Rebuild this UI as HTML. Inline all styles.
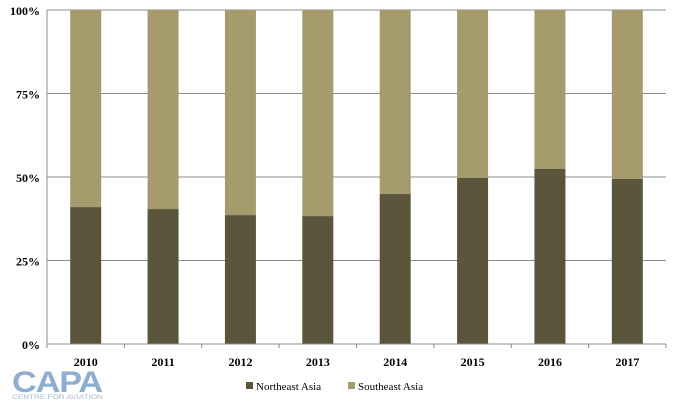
<!DOCTYPE html>
<html><head><meta charset="utf-8"><style>
body{margin:0;background:#fff;width:676px;height:403px;overflow:hidden}
svg{display:block;font-family:"Liberation Serif",serif}
</style></head><body>
<svg id="chart" width="676" height="403">
<g id="grid"></g>
<g id="bars"></g>
<g id="axes"></g>
<g>
<rect x="246" y="382" width="7" height="7" fill="#5a553b"/>
<text x="256" y="390" font-size="11" fill="#000">Northeast Asia</text>
<rect x="348" y="382" width="7" height="7" fill="#a59b6d"/>
<text x="358" y="390" font-size="11" fill="#000">Southeast Asia</text>
</g>
<g>
<text x="12" y="392" font-family="Liberation Sans,sans-serif" font-weight="bold" font-size="30" fill="#8eaed0" letter-spacing="-1" textLength="90" lengthAdjust="spacingAndGlyphs">CAPA</text>
<text x="12" y="399" font-family="Liberation Sans,sans-serif" font-size="6.5" fill="#a9b8c8" textLength="91" lengthAdjust="spacingAndGlyphs">CENTRE FOR AVIATION</text>
</g>
</svg>
<script>
const categories=["2010","2011","2012","2013","2014","2015","2016","2017"];
const northeast=[41.0,40.4,38.6,38.3,44.9,49.7,52.4,49.4];
const southeast=[59.0,59.6,61.4,61.7,55.1,50.3,47.6,50.6];
const yTicks=[0,25,50,75,100];
const yTickLabels=["0%","25%","50%","75%","100%"];
const NS="http://www.w3.org/2000/svg";
const X0=47,X1=666,Y0=344,Y1=10;
const band=(X1-X0)/categories.length;
function x(i){return X0+band*(i+0.5);}
function y(v){return Y0-(Y1-Y0)*-v/100;}
function mk(tag,attrs,parent){const e=document.createElementNS(NS,tag);for(const k in attrs)e.setAttribute(k,attrs[k]);parent.appendChild(e);return e;}
const grid=document.getElementById('grid'),bars=document.getElementById('bars'),axes=document.getElementById('axes');
yTicks.forEach((t,i)=>{
  if(t>0){const l=mk('line',{x1:X0,x2:X1,y1:y(t),y2:y(t),stroke:'#8c8c8c','stroke-width':1},grid);
  
  }
  const tx=mk('text',{x:X0-7,y:y(t)+5,'text-anchor':'end','font-size':12,'font-weight':'bold',fill:'#000'},axes);
  tx.textContent=yTickLabels[i];
  
  
});
const bw=31;
categories.forEach((c,i)=>{
  let total=northeast[i]+southeast[i];
  const n=northeast[i]/total*100;
  const r1=mk('rect',{x:x(i)-bw/2,y:y(n),width:bw,height:y(0)-y(n),fill:'#5a553b'},bars);
  
  
  const r2=mk('rect',{x:x(i)-bw/2,y:y(100),width:bw,height:y(n)-y(100),fill:'#a59b6d'},bars);
  
  
  const t=mk('text',{x:x(i),y:366,'text-anchor':'middle','font-size':12,'font-weight':'bold',fill:'#000'},axes);
  t.textContent=c;
  
  
});
for(let i=0;i<=categories.length;i++){
  const tk=mk('line',{x1:X0+band*i,x2:X0+band*i,y1:Y0,y2:Y0+4,stroke:'#8c8c8c'},axes);
  
  
}
const xa=mk('line',{x1:X0,x2:X1,y1:Y0,y2:Y0,stroke:'#8c8c8c'},axes);


const ya=mk('line',{x1:X0,x2:X0,y1:Y0,y2:Y1,stroke:'#8c8c8c'},axes);


</script>
</body></html>
